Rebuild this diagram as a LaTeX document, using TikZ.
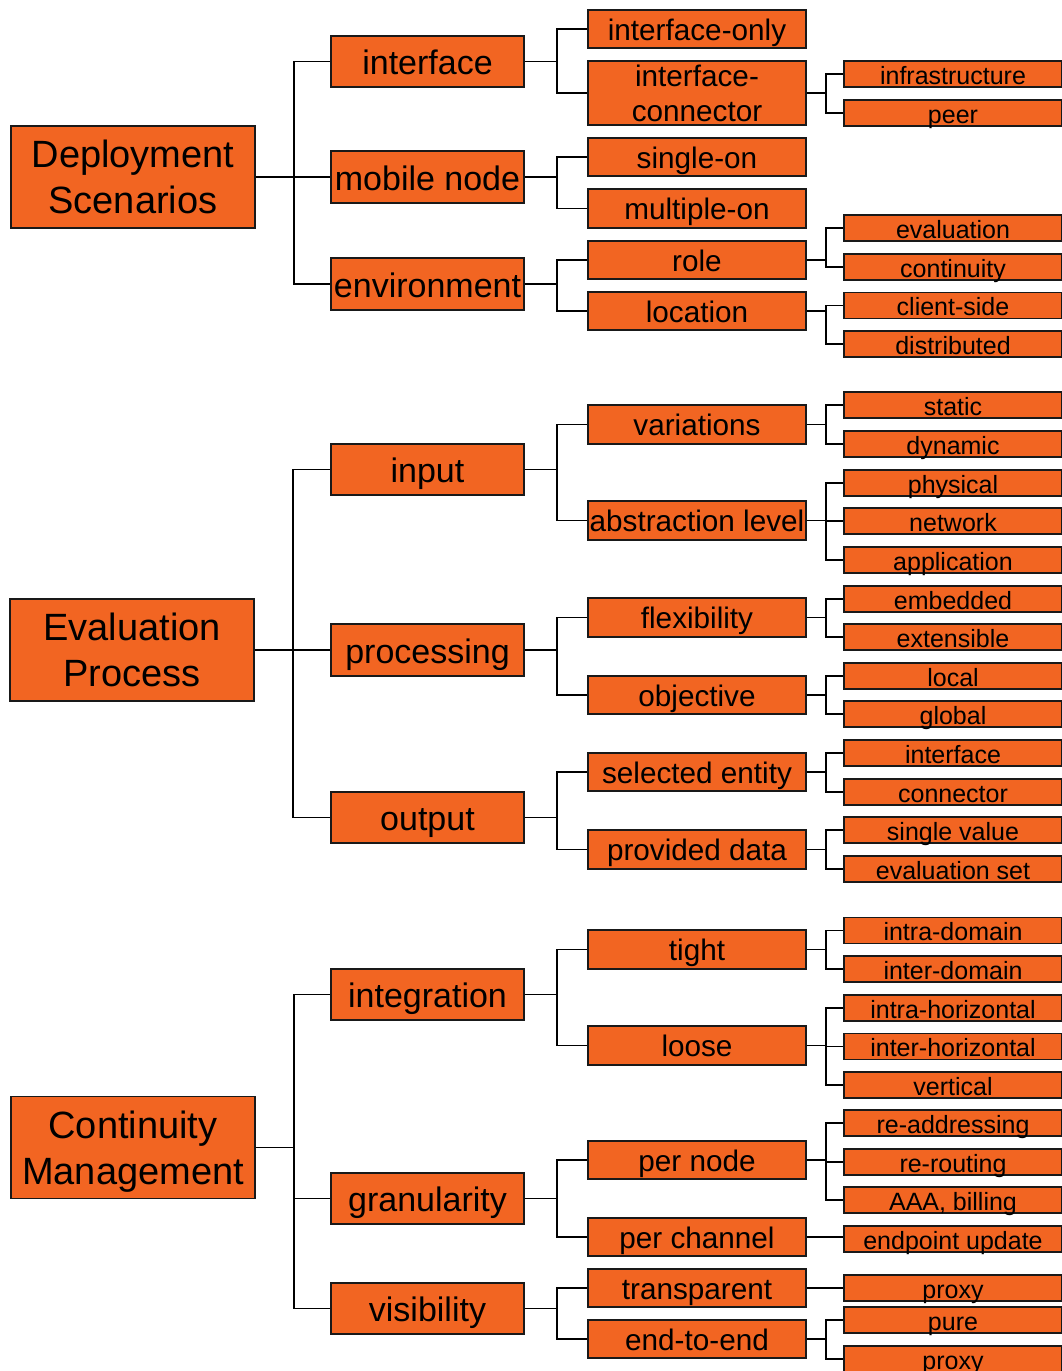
\documentclass[tikz,border=0pt]{standalone}
\usepackage{fontspec}
\setmainfont{Liberation Sans}
\definecolor{boxorange}{RGB}{242,101,34}
\tikzset{
  box/.style={draw=black!90, line width=1.8pt, fill=boxorange, inner sep=0pt,
    anchor=center, text depth=0pt, text=black},
  lvlzero/.style={box, minimum width=244pt, minimum height=102pt, align=center,
    font=\fontsize{38}{46}\selectfont},
  lvlone/.style={box, minimum width=193pt, minimum height=51.5pt, text height=26pt,
    font=\fontsize{34}{40}\selectfont},
  lvltwo/.style={box, minimum width=218pt, minimum height=38.5pt, text height=22pt,
    font=\fontsize{29.7}{35}\selectfont},
  lvltwotall/.style={box, minimum width=218pt, minimum height=64pt, align=center,
    font=\fontsize{29.7}{35}\selectfont},
  lvlthree/.style={box, minimum width=218pt, minimum height=26pt, text height=20pt,
    font=\fontsize{25}{30}\selectfont},
  link/.style={draw=black, line width=1.8pt}
}
\begin{document}
\begin{tikzpicture}[x=1pt,y=-1pt]
\useasboundingbox (0,0) rectangle (1061,1371);

% roots
\node[lvlzero] (ds) at (133,177)    {Deployment\\Scenarios};
\node[lvlzero] (ep) at (132,650)    {Evaluation\\Process};
\node[lvlzero] (cm) at (133,1147.5) {Continuity\\Management};

% first level
\node[lvlone] (iface) at (427.5,61.5)  {interface};
\node[lvlone] (mob)   at (427.5,177)   {mobile node};
\node[lvlone] (env)   at (427.5,284)   {environment};
\node[lvlone] (inp)   at (427.5,469.5) {input};
\node[lvlone] (proc)  at (427.5,650)   {processing};
\node[lvlone] (outp)  at (427.5,817.5) {output};
\node[lvlone] (integ) at (427.5,994.5) {integration};
\node[lvlone] (gran)  at (427.5,1198.5){granularity};
\node[lvlone] (vis)   at (427.5,1308.5){visibility};

% second level
\node[lvltwo]     (ionly) at (697,29)     {interface-only};
\node[lvltwotall] (iconn) at (697,93)     {interface-\\connector};
\node[lvltwo]     (son)   at (697,157)    {single-on};
\node[lvltwo]     (mon)   at (697,208.5)  {multiple-on};
\node[lvltwo]     (role)  at (697,260)    {role};
\node[lvltwo]     (loc)   at (697,311)    {location};
\node[lvltwo]     (var)   at (697,424.5)  {variations};
\node[lvltwo]     (abst)  at (697,520.5)  {abstraction level};
\node[lvltwo]     (flex)  at (697,617.5)  {flexibility};
\node[lvltwo]     (obj)   at (697,695)    {objective};
\node[lvltwo]     (sel)   at (697,772)    {selected entity};
\node[lvltwo]     (prov)  at (697,849.5)  {provided data};
\node[lvltwo]     (tight) at (697,949.5)  {tight};
\node[lvltwo]     (loose) at (697,1045.5) {loose};
\node[lvltwo]     (pnode) at (697,1160)   {per node};
\node[lvltwo]     (pchan) at (697,1237)   {per channel};
\node[lvltwo]     (transp) at (697,1288)  {transparent};
\node[lvltwo]     (e2e)   at (697,1339)   {end-to-end};

% third level
\node[lvlthree] (infra) at (953,74)     {infrastructure};
\node[lvlthree] (peer)  at (953,113)    {peer};
\node[lvlthree] (eval)  at (953,228)    {evaluation};
\node[lvlthree] (cont)  at (953,267)    {continuity};
\node[lvlthree] (csid)  at (953,305.5)  {client-side};
\node[lvlthree] (dist)  at (953,344)    {distributed};
\node[lvlthree] (stat)  at (953,405)    {static};
\node[lvlthree] (dyn)   at (953,444)    {dynamic};
\node[lvlthree] (phys)  at (953,483)    {physical};
\node[lvlthree] (netw)  at (953,521)    {network};
\node[lvlthree] (appl)  at (953,560)    {application};
\node[lvlthree] (emb)   at (953,599)    {embedded};
\node[lvlthree] (ext)   at (953,637)    {extensible};
\node[lvlthree] (lcl)   at (953,676)    {local};
\node[lvlthree] (glb)   at (953,714)    {global};
\node[lvlthree] (ifc)   at (953,753)    {interface};
\node[lvlthree] (con)   at (953,792)    {connector};
\node[lvlthree] (sval)  at (953,830)    {single value};
\node[lvlthree] (eset)  at (953,869)    {evaluation set};
\node[lvlthree] (intrad) at (953,930.5) {intra-domain};
\node[lvlthree] (interd) at (953,969)   {inter-domain};
\node[lvlthree] (intrah) at (953,1008)  {intra-horizontal};
\node[lvlthree] (interh) at (953,1046.5){inter-horizontal};
\node[lvlthree] (vert)  at (953,1085)   {vertical};
\node[lvlthree] (readd) at (953,1123)   {re-addressing};
\node[lvlthree] (rerou) at (953,1162)   {re-routing};
\node[lvlthree] (aaa)   at (953,1200)   {AAA, billing};
\node[lvlthree] (eupd)  at (953,1239)   {endpoint update};
\node[lvlthree] (proxya) at (953,1288)  {proxy};
\node[lvlthree] (pure)  at (953,1320)   {pure};
\node[lvlthree] (proxyb) at (953,1359)  {proxy};

% tree connectors: parent -> vertical bar -> child
\foreach \p/\c in {ds/iface,ds/mob,ds/env,ep/inp,ep/proc,ep/outp,cm/integ,cm/gran,cm/vis}
  \draw[link] (\p.east) -- ++(38,0) |- (\c.west);
\foreach \p/\c in {iface/ionly,iface/iconn,mob/son,mob/mon,env/role,env/loc,
                   inp/var,inp/abst,proc/flex,proc/obj,outp/sel,outp/prov,
                   integ/tight,integ/loose,gran/pnode,gran/pchan,vis/transp,vis/e2e}
  \draw[link] (\p.east) -- ++(32,0) |- (\c.west);
\foreach \p/\c in {iconn/infra,iconn/peer,role/eval,role/cont,loc/csid,loc/dist,
                   var/stat,var/dyn,abst/phys,abst/netw,abst/appl,flex/emb,flex/ext,
                   obj/lcl,obj/glb,sel/ifc,sel/con,prov/sval,prov/eset,
                   tight/intrad,tight/interd,loose/intrah,loose/interh,loose/vert,
                   pnode/readd,pnode/rerou,pnode/aaa,e2e/pure,e2e/proxyb}
  \draw[link] (\p.east) -- ++(19,0) |- (\c.west);
\foreach \p/\c in {pchan/eupd,transp/proxya}
  \draw[link] (\p.east) -- (\p.east -| \c.west);
\end{tikzpicture}
\end{document}
